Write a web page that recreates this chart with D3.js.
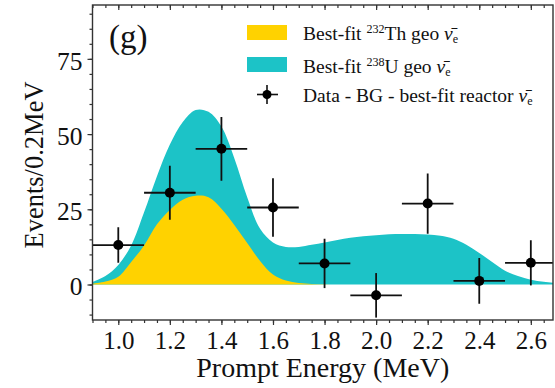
<!DOCTYPE html>
<html>
<head>
<meta charset="utf-8">
<script src="https://cdn.jsdelivr.net/npm/d3@7"></script>
<style>
  html, body { margin: 0; padding: 0; background: #fff; }
  svg { display: block; }
  text { font-family: "Liberation Serif", "Times New Roman", serif; fill: #111; }
</style>
</head>
<body>
<svg id="chart" width="555" height="388"></svg>
<script>
// Prompt energy grid (MeV) for the best-fit spectra
const energyGrid = [0.90, 0.95, 1.00, 1.05, 1.10, 1.15, 1.20, 1.25, 1.30, 1.35, 1.40, 1.45, 1.50, 1.55, 1.60, 1.65, 1.70, 1.75, 1.80, 1.85, 1.90, 1.95, 2.00, 2.05, 2.10, 2.15, 2.20, 2.25, 2.30, 2.35, 2.40, 2.45, 2.50, 2.55, 2.60, 2.65, 2.70];
// Best-fit 232Th geo-neutrino spectrum (events / 0.2 MeV)
const thoriumFit = [0.3, 1.0, 2.6, 7.5, 13.0, 20.0, 24.8, 28.2, 29.5, 29.0, 25.2, 19.8, 13.8, 7.8, 3.3, 1.3, 0.5, 0.2, 0.1, 0, 0, 0, 0, 0, 0, 0, 0, 0, 0, 0, 0, 0, 0, 0, 0, 0, 0];
// Best-fit 238U + 232Th geo-neutrino spectrum, stacked total (events / 0.2 MeV)
const totalFit = [0.8, 2.8, 6.5, 13.0, 24.0, 36.0, 46.5, 54.0, 58.0, 57.4, 52.5, 42.0, 29.0, 18.5, 14.0, 12.5, 12.5, 13.2, 14.0, 14.8, 15.5, 16.0, 16.4, 16.7, 16.8, 16.8, 16.6, 16.2, 15.2, 13.2, 10.5, 7.5, 4.6, 2.8, 1.6, 0.9, 0.5];

// Data - BG - best-fit reactor, per 0.2 MeV bin
const binCenters = [1.0, 1.2, 1.4, 1.6, 1.8, 2.0, 2.2, 2.4, 2.6];
const binEvents  = [13.1, 30.5, 45.1, 25.6, 7.0, -3.6, 26.9, 1.2, 7.2];
const binErrors  = [5.9, 9.0, 10.6, 9.7, 8.2, 7.4, 10.0, 7.6, 7.5];
const binHalfWidth = 0.1;

const yMajorTicks = [0, 25, 50, 75];
const xMajorTicks = [1.0, 1.2, 1.4, 1.6, 1.8, 2.0, 2.2, 2.4, 2.6];
const xTickLabels = ["1.0", "1.2", "1.4", "1.6", "1.8", "2.0", "2.2", "2.4", "2.6"];

const COLOR_TH = "#ffd200";
const COLOR_U = "#1cc3c7";
const AXIS = "#333";

const svg = d3.select("#chart");
const plot = { left: 92.5, right: 553, top: 5, bottom: 320 };

const x = d3.scaleLinear().domain([0.9, 2.686]).range([plot.left, plot.right]);
const y = d3.scaleLinear().domain([-11.8, 92.9]).range([plot.bottom, plot.top]);

svg.append("clipPath").attr("id", "plotClip")
  .append("rect")
  .attr("x", plot.left).attr("y", plot.top)
  .attr("width", plot.right - plot.left).attr("height", plot.bottom - plot.top);

const g = svg.append("g").attr("clip-path", "url(#plotClip)");

// Stacked spectra: total (cyan) with thorium (yellow) on top of it
const specArea = d3.area()
  .x((d, i) => x(energyGrid[i]))
  .y0(y(0))
  .y1(d => y(Math.max(0, d)))
  .curve(d3.curveCatmullRom.alpha(0.5));

g.append("path").datum(totalFit).attr("d", specArea).attr("fill", COLOR_U);
g.append("path").datum(thoriumFit).attr("d", specArea).attr("fill", COLOR_TH);

// Data points with error bars
const pts = g.append("g").selectAll("g").data(binCenters).join("g");
pts.append("line")
  .attr("x1", d => x(d - binHalfWidth)).attr("x2", d => x(d + binHalfWidth))
  .attr("y1", (d, i) => y(binEvents[i])).attr("y2", (d, i) => y(binEvents[i]))
  .attr("stroke", "#111").attr("stroke-width", 1.8);
pts.append("line")
  .attr("x1", d => x(d)).attr("x2", d => x(d))
  .attr("y1", (d, i) => y(binEvents[i] - binErrors[i]))
  .attr("y2", (d, i) => y(binEvents[i] + binErrors[i]))
  .attr("stroke", "#111").attr("stroke-width", 1.8);
pts.append("circle")
  .attr("cx", d => x(d)).attr("cy", (d, i) => y(binEvents[i]))
  .attr("r", 5).attr("fill", "#000");

// Axes
const xBottom = svg.append("g").attr("transform", `translate(0,${plot.bottom})`)
  .call(d3.axisBottom(x).tickValues(xMajorTicks).tickFormat((d, i) => xTickLabels[i]).tickSize(5).tickPadding(6));
const xMinor = d3.range(0.9, 2.68, 0.05);
svg.append("g").attr("transform", `translate(0,${plot.bottom})`)
  .call(d3.axisBottom(x).tickValues(xMinor).tickFormat("").tickSize(3));
svg.append("g").attr("transform", `translate(0,${plot.top})`)
  .call(d3.axisBottom(x).tickValues(xMajorTicks).tickFormat("").tickSize(5));
svg.append("g").attr("transform", `translate(0,${plot.top})`)
  .call(d3.axisBottom(x).tickValues(xMinor).tickFormat("").tickSize(3));

const yLeft = svg.append("g").attr("transform", `translate(${plot.left},0)`)
  .call(d3.axisLeft(y).tickValues(yMajorTicks).tickSize(5).tickPadding(5));
const yMinor = d3.range(-10, 91, 5);
svg.append("g").attr("transform", `translate(${plot.left},0)`)
  .call(d3.axisLeft(y).tickValues(yMinor).tickFormat("").tickSize(3));

svg.selectAll(".domain").remove();
svg.selectAll(".tick line").attr("stroke", AXIS).attr("stroke-width", 1.2);
xBottom.selectAll(".tick text").attr("font-size", 25).attr("fill", "#111")
  .attr("font-family", '"Liberation Serif", serif');
yLeft.selectAll(".tick text").attr("font-size", 25.5).attr("fill", "#111")
  .attr("font-family", '"Liberation Serif", serif').attr("dy", "0.4em");

// Frame
svg.append("rect")
  .attr("x", plot.left).attr("y", plot.top)
  .attr("width", plot.right - plot.left).attr("height", plot.bottom - plot.top)
  .attr("fill", "none").attr("stroke", AXIS).attr("stroke-width", 1.4);

// Axis titles
svg.append("text")
  .attr("x", (plot.left + plot.right) / 2).attr("y", 377)
  .attr("text-anchor", "middle").attr("font-size", 28)
  .text("Prompt Energy (MeV)");
svg.append("text")
  .attr("transform", `translate(43,${(80 + 250) / 2}) rotate(-90)`)
  .attr("text-anchor", "middle").attr("font-size", 26.5)
  .text("Events/0.2MeV");

// Panel tag
svg.append("text").attr("x", 109).attr("y", 48).attr("font-size", 33).text("(g)");

// Legend
const legend = svg.append("g");
const legX = 247, legTextX = 303, legFont = 19.5;
legend.append("rect").attr("x", legX).attr("y", 25).attr("width", 40).attr("height", 15).attr("fill", COLOR_TH);
legend.append("rect").attr("x", legX).attr("y", 57).attr("width", 40).attr("height", 15).attr("fill", COLOR_U);
legend.append("line").attr("x1", 257).attr("x2", 278).attr("y1", 94.5).attr("y2", 94.5).attr("stroke", "#111").attr("stroke-width", 1.6);
legend.append("line").attr("x1", 267).attr("x2", 267).attr("y1", 85).attr("y2", 104).attr("stroke", "#111").attr("stroke-width", 1.6);
legend.append("circle").attr("cx", 267).attr("cy", 94.5).attr("r", 4.5).attr("fill", "#000");

function nuBar(sel) {
  sel.append("tspan").attr("font-style", "italic").text("\u03BD\u0304");
  sel.append("tspan").attr("font-size", legFont * 0.62).attr("dy", 3).text("e");
}
const t1 = legend.append("text").attr("x", legTextX).attr("y", 39.5).attr("font-size", legFont);
t1.append("tspan").text("Best-fit ");
t1.append("tspan").attr("font-size", legFont * 0.62).attr("dy", -7).text("232");
t1.append("tspan").attr("dy", 7).text("Th geo ");
nuBar(t1);

const t2 = legend.append("text").attr("x", legTextX).attr("y", 72.5).attr("font-size", legFont);
t2.append("tspan").text("Best-fit ");
t2.append("tspan").attr("font-size", legFont * 0.62).attr("dy", -7).text("238");
t2.append("tspan").attr("dy", 7).text("U geo ");
nuBar(t2);

const t3 = legend.append("text").attr("x", legTextX).attr("y", 101.5).attr("font-size", legFont);
t3.append("tspan").text("Data - BG - best-fit reactor ");
nuBar(t3);
</script>
</body>
</html>
